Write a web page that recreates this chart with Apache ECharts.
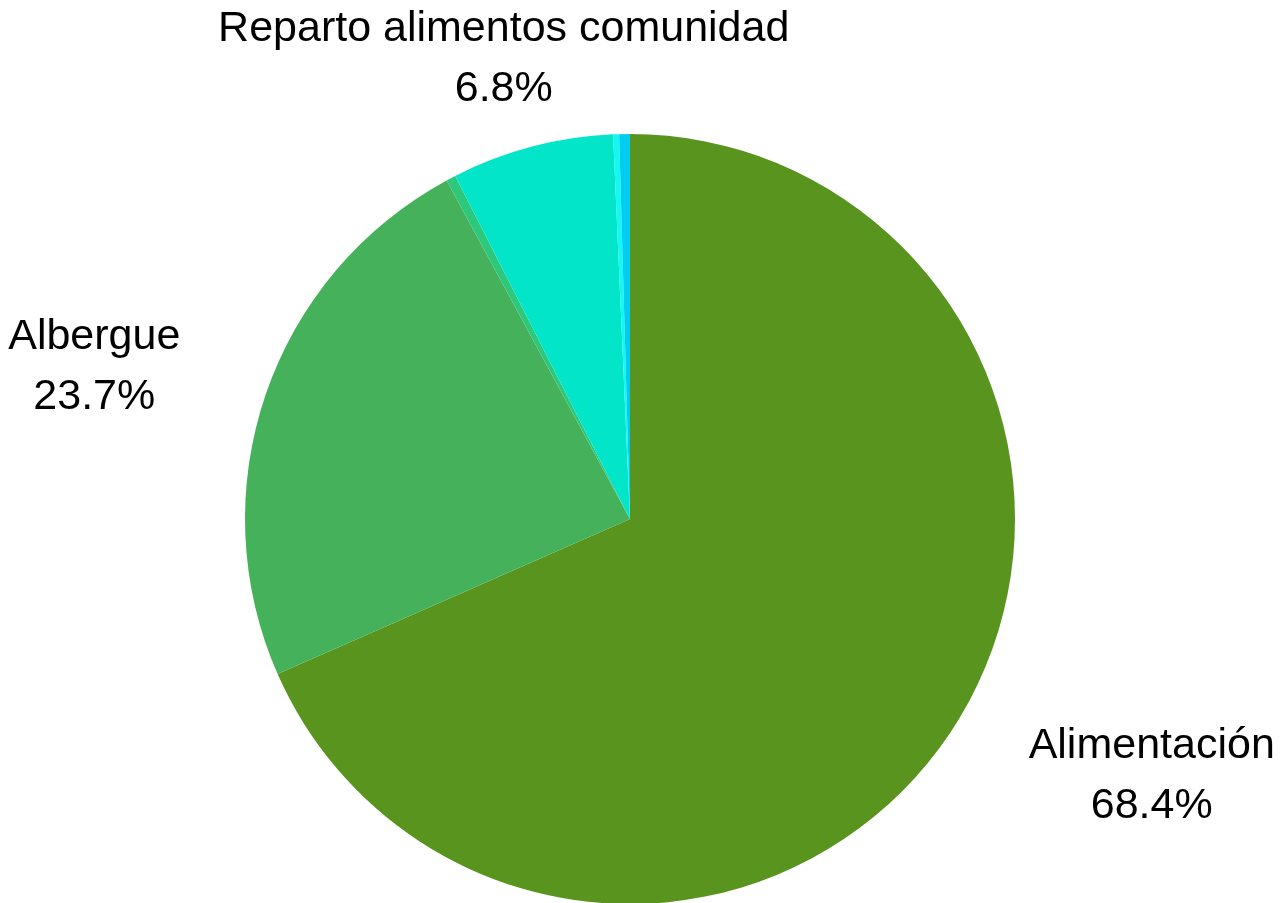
<!DOCTYPE html>
<html>
<head>
<meta charset="utf-8">
<style>
  html, body { margin: 0; padding: 0; background: #ffffff; }
  #chart { width: 1287px; height: 903px; }
</style>
<script src="https://cdn.jsdelivr.net/npm/echarts@6/dist/echarts.min.js"></script>
</head>
<body>
<div id="chart"></div>
<script>
// Data (percent of total), clockwise from 12 o'clock
var categories = ['Alimentación', 'Albergue', 'Otros (a)', 'Reparto alimentos comunidad', 'Otros (b)', 'Otros (c)'];
var values = [68.4, 23.7, 0.40, 6.8, 0.25, 0.45];
var showLabel = [true, true, false, true, false, false];
var colors = ['#59941f', '#45b15a', '#2ec87c', '#03e5c8', '#14f7f2', '#00cdf0'];

var total = values.reduce(function (a, b) { return a + b; }, 0);
var midAngles = [];
(function () {
  var acc = 0;
  for (var i = 0; i < values.length; i++) {
    var a = values[i] / total * 360;
    midAngles.push((acc + a / 2) * Math.PI / 180);
    acc += a;
  }
})();

var chart = echarts.init(document.getElementById('chart'), null, { renderer: 'canvas' });

var data = categories.map(function (c, i) {
  var d = {
    name: c,
    value: values[i],
    itemStyle: { color: colors[i] },
    label: { show: showLabel[i] }
  };
  if (Math.abs(Math.sin(midAngles[i])) < 0.5) {
    d.labelLine = { length: 91 };
  }
  return d;
});

chart.setOption({
  backgroundColor: '#ffffff',
  animation: false,
  series: [{
    type: 'pie',
    center: [630, 519],
    radius: [0, 385],
    startAngle: 90,
    clockwise: true,
    avoidLabelOverlap: false,
    data: data,
    itemStyle: { borderWidth: 0 },
    emphasis: { disabled: true },
    label: {
      position: 'outside',
      fontFamily: 'Liberation Sans, Arial, sans-serif',
      formatter: function (p) {
        return '{c|' + p.name + '}\n{c|' + p.value.toFixed(1) + '%}';
      },
      rich: {
        c: {
          align: 'center',
          fontSize: 43,
          lineHeight: 60,
          color: '#000000',
          fontFamily: 'Liberation Sans, Arial, sans-serif'
        }
      }
    },
    labelLine: { show: false, length: 85, length2: 0 },
    labelLayout: function (p) {
      var ang = midAngles[p.dataIndex];
      var r = p.labelRect;
      var ax = p.align === 'right' ? r.x + r.width : (p.align === 'center' ? r.x + r.width / 2 : r.x);
      var ay = r.y + r.height / 2;
      if (Math.abs(Math.sin(ang)) < 0.5) {
        return { x: ax, y: ay, align: 'center', verticalAlign: 'middle' };
      }
      return {};
    }
  }]
});
</script>
</body>
</html>
